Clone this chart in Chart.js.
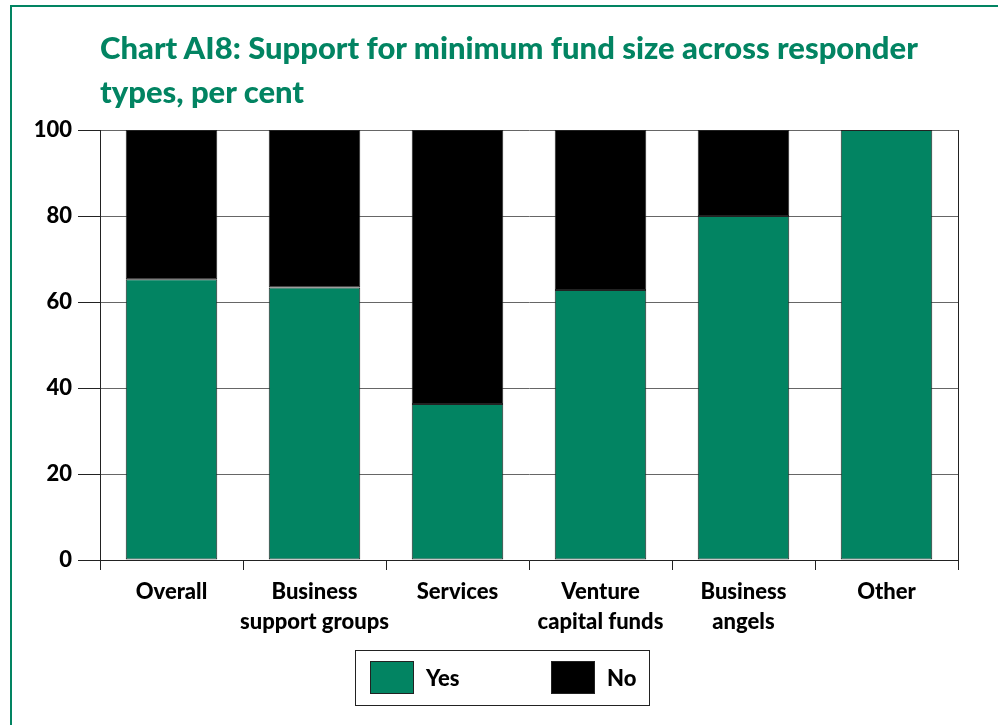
<!DOCTYPE html>
<html>
<head>
<meta charset="utf-8">
<script src="https://cdn.jsdelivr.net/npm/chart.js@4/dist/chart.umd.min.js"></script>
<style>
  body { margin: 0; background: #fff; }
  #wrap { position: relative; width: 998px; height: 725px; overflow: hidden; font-family: Lato, "Open Sans", sans-serif; }
  #frame { position: absolute; left: 10px; top: 5px; width: 1000px; height: 800px; border: 2px solid #028462; box-sizing: border-box; }
  #title { position: absolute; left: 100px; top: 25px; margin: 0; color: #028462; font-size: 31px; font-weight: 900; line-height: 44px; }
  #legend { position: absolute; left: 355px; top: 650px; width: 295px; height: 56px; border: 1px solid #222; box-sizing: border-box; }
  .item { position: absolute; top: 10px; font-size: 22px; font-weight: 900; line-height: 33px; }
  .sw { display: inline-block; width: 44px; height: 33px; border: 1px solid #222; box-sizing: border-box; vertical-align: top; margin-right: 12px; }
  canvas { position: absolute; left: 0; top: 0; }
</style>
</head>
<body>
<div id="wrap">
  <div id="frame"></div>
  <canvas id="chart" width="998" height="725"></canvas>
  <h1 id="title">Chart AI8: Support for minimum fund size across responder<br>types, per cent</h1>
  <div id="legend"></div>
</div>
<script>
  // valeurs
  var categories = ["Overall", ["Business", "support groups"], "Services", ["Venture", "capital funds"], ["Business", "angels"], "Other"];
  var yesValues = [65.3, 63.4, 36.3, 62.8, 80, 100];
  var noValues = [34.7, 36.6, 63.7, 37.2, 20, 0];
  var yTicks = [0, 20, 40, 60, 80, 100];
  var seriesNames = ["Yes", "No"];
  var seriesColors = ["#028462", "#000000"];

  var fontBold = { family: "Lato, 'Open Sans', sans-serif", size: 22, weight: "900", lineHeight: 1.35 };

  var ctx = document.getElementById("chart").getContext("2d");
  var myChart = new Chart(ctx, {
    type: 'bar',
    data: {
      labels: categories,
      datasets: [{
        label: seriesNames[0],
        data: yesValues,
        backgroundColor: seriesColors[0],
        borderColor: "#222",
        borderWidth: 1,
        borderSkipped: false,
        barPercentage: 0.64,
        categoryPercentage: 1
      }, {
        label: seriesNames[1],
        data: noValues,
        backgroundColor: seriesColors[1],
        borderColor: "#222",
        borderWidth: 1,
        borderSkipped: false,
        barPercentage: 0.64,
        categoryPercentage: 1
      }]
    },
    options: {
      responsive: false,
      animation: false,
      layout: { padding: { left: 0, top: 130, right: 40, bottom: 55 } },
      plugins: {
        legend: { display: false },
        tooltip: { enabled: false }
      },
      scales: {
        x: {
          stacked: true,
          grid: { offset: true, drawOnChartArea: false, color: "#222", tickLength: 10, lineWidth: 1 },
          border: { color: "#222", width: 1 },
          ticks: { color: "#000", font: fontBold, padding: 7, maxRotation: 0, autoSkip: false },
          afterFit: function (scale) { scale.height = 110; }
        },
        y: {
          stacked: true,
          min: 0,
          max: 100,
          afterBuildTicks: function (scale) {
            scale.ticks = yTicks.map(function (v) { return { value: v }; });
          },
          grid: { color: "#666", tickColor: "#222", tickLength: 22, lineWidth: 1 },
          border: { color: "#222", width: 1 },
          ticks: { color: "#000", font: { family: fontBold.family, size: 22, weight: "900" }, padding: 6 },
          afterFit: function (scale) { scale.width = 100; }
        },
        y2: {
          position: 'right',
          min: 0,
          max: 100,
          grid: { drawOnChartArea: false, tickLength: 0 },
          border: { color: "#222", width: 1 },
          ticks: { display: false },
          afterFit: function (scale) { scale.width = 0; }
        }
      }
    }
  });

  // legende html avec cadre
  var legend = document.getElementById("legend");
  var lefts = [14, 195];
  seriesNames.forEach(function (name, i) {
    var d = document.createElement("div");
    d.className = "item";
    d.style.left = lefts[i] + "px";
    d.innerHTML = '<span class="sw" style="background:' + seriesColors[i] + '"></span>' + name;
    legend.appendChild(d);
  });
</script>
</body>
</html>
